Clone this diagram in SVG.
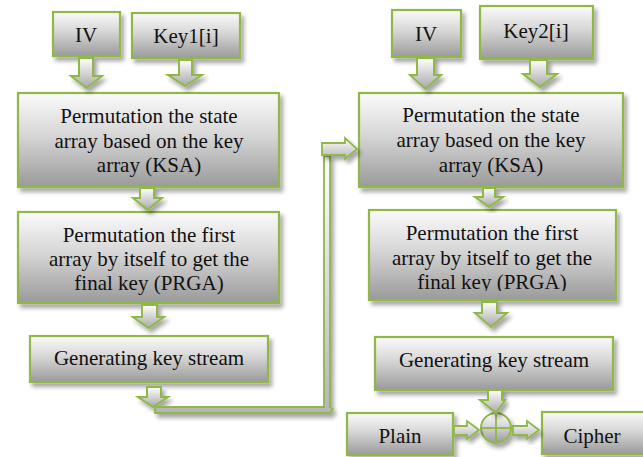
<svg xmlns="http://www.w3.org/2000/svg" width="643" height="457" viewBox="0 0 643 457">
  <defs>
    <linearGradient id="boxFill" x1="0" y1="0" x2="0" y2="1">
      <stop offset="0" stop-color="#fbfbfb"/>
      <stop offset="0.45" stop-color="#d6d6d6"/>
      <stop offset="1" stop-color="#9a9a9a"/>
    </linearGradient>
    <linearGradient id="arrowFill" x1="0" y1="0" x2="0" y2="1">
      <stop offset="0" stop-color="#ffffff"/>
      <stop offset="1" stop-color="#a8a8a8"/>
    </linearGradient>
    <linearGradient id="arrowFillH" x1="0" y1="0" x2="0" y2="1">
      <stop offset="0" stop-color="#ffffff"/>
      <stop offset="1" stop-color="#b5b5b5"/>
    </linearGradient>
    <filter id="shadow" x="-10%" y="-10%" width="130%" height="140%">
      <feGaussianBlur in="SourceAlpha" stdDeviation="2.2"/>
      <feOffset dx="3" dy="4" result="b"/>
      <feFlood flood-color="#000" flood-opacity="0.35"/>
      <feComposite in2="b" operator="in"/>
      <feMerge>
        <feMergeNode/>
        <feMergeNode in="SourceGraphic"/>
      </feMerge>
    </filter>
    <clipPath id="clipPrga2">
      <rect x="369" y="210" width="247" height="81"/>
    </clipPath>
    <style>
      .box { fill: url(#boxFill); stroke: #8fb847; stroke-width: 2.2; filter: url(#shadow); }
      .arr { fill: url(#arrowFill); stroke: #8fb847; stroke-width: 2; stroke-linejoin: miter; filter: url(#shadow); }
      .arrh { fill: url(#arrowFillH); stroke: #8fb847; stroke-width: 1.8; filter: url(#shadow); }
      .lbl { font-family: "Liberation Serif", "Times New Roman", serif; font-size: 21px; fill: #111; text-anchor: middle; }
      .xor { fill: url(#boxFill); stroke: #8fb847; stroke-width: 2; filter: url(#shadow); }
      .xorline { stroke: #8fb847; stroke-width: 1.8; }
    </style>
  </defs>

  <!-- Left column: first key scheduling -->
  <g id="iv1">
    <rect class="box" x="53" y="12" width="67" height="44"/>
    <text class="lbl" x="86" y="42">IV</text>
  </g>
  <g id="key1">
    <rect class="box" x="132" y="13" width="108" height="45"/>
    <text class="lbl" x="186" y="43">Key1[i]</text>
  </g>
  <g id="ksa1">
    <rect class="box" x="18" y="93" width="261" height="94"/>
    <text class="lbl" x="149" y="123">Permutation the state</text>
    <text class="lbl" x="149" y="148">array based on the key</text>
    <text class="lbl" x="149" y="172">array (KSA)</text>
  </g>
  <g id="prga1">
    <rect class="box" x="18" y="212" width="261" height="91"/>
    <text class="lbl" x="149" y="242">Permutation the first</text>
    <text class="lbl" x="149" y="266">array by itself to get the</text>
    <text class="lbl" x="149" y="290">final key (PRGA)</text>
  </g>
  <g id="gen1">
    <rect class="box" x="30" y="336" width="238" height="46"/>
    <text class="lbl" x="149" y="365">Generating key stream</text>
  </g>

  <!-- Right column: second key scheduling and encryption -->
  <g id="iv2">
    <rect class="box" x="392" y="10" width="69" height="47"/>
    <text class="lbl" x="426" y="41">IV</text>
  </g>
  <g id="key2">
    <rect class="box" x="480" y="6" width="113" height="53"/>
    <text class="lbl" x="536" y="38">Key2[i]</text>
  </g>
  <g id="ksa2">
    <rect class="box" x="359" y="93" width="264" height="94"/>
    <text class="lbl" x="491" y="122">Permutation the state</text>
    <text class="lbl" x="491" y="147">array based on the key</text>
    <text class="lbl" x="491" y="172">array (KSA)</text>
  </g>
  <g id="prga2">
    <rect class="box" x="369" y="210" width="247" height="90"/>
    <text class="lbl" x="492" y="240">Permutation the first</text>
    <text class="lbl" x="492" y="265">array by itself to get the</text>
    <text class="lbl" x="492" y="289" clip-path="url(#clipPrga2)">final key (PRGA)</text>
  </g>
  <g id="gen2">
    <rect class="box" x="375" y="337" width="238" height="53"/>
    <text class="lbl" x="494" y="367">Generating key stream</text>
  </g>
  <g id="plain">
    <rect class="box" x="347" y="413" width="106" height="42"/>
    <text class="lbl" x="400" y="443">Plain</text>
  </g>
  <g id="xor">
    <circle class="xor" cx="496" cy="428" r="15"/>
    <line class="xorline" x1="481" y1="428" x2="511" y2="428"/>
    <line class="xorline" x1="496" y1="413" x2="496" y2="443"/>
  </g>
  <g id="cipher">
    <rect class="box" x="542" y="412" width="104" height="42"/>
    <text class="lbl" x="592" y="443">Cipher</text>
  </g>

  <!-- Connectors: block arrows -->
  <g id="connectors">
    <!-- left column -->
    <path class="arr" d="M79,58 H93 V76 H102 L86.5,88 L71,76 H79 Z"/>
    <path class="arr" d="M179,60 H192 V75 H202 L185,86 L168,75 H179 Z"/>
    <path class="arr" d="M140,188 H154 V198 H162 L147.5,210 L133,198 H140 Z"/>
    <path class="arr" d="M142,305 H157 V317 H164 L148.5,328 L133,317 H142 Z"/>
    <path class="arr" d="M147,387 H161 V397 H168 L153,407 L138,397 H147 Z"/>
    <!-- elbow link from left key stream to right KSA -->
    <path class="arrh" d="M155,407 H324 V156 H330 V407 L333,409 L330,413 H155 Z"/>
    <path class="arrh" d="M322,143 H345 V138 L357,149 L345,159 V155 H322 Z"/>
    <!-- right column -->
    <path class="arr" d="M417,58 H434 V75 H441 L425.5,89 L410,75 H417 Z"/>
    <path class="arr" d="M530,60 H547 V74 H557 L540,87 L523,74 H530 Z"/>
    <path class="arr" d="M483,188 H495 V197 H503 L489,207 L475,197 H483 Z"/>
    <path class="arr" d="M482,302 H497 V313 H507 L491,327 L475,313 H482 Z"/>
    <path class="arr" d="M488,390 H502 V400 H505 L496,413 L480,400 H488 Z"/>
    <path class="arrh" d="M454,426 H467 V421 L479,430 L467,439 V435 H454 Z"/>
    <path class="arrh" d="M513,426 H527 V421 L539,430 L527,439 V435 H513 Z"/>
  </g>
</svg>
